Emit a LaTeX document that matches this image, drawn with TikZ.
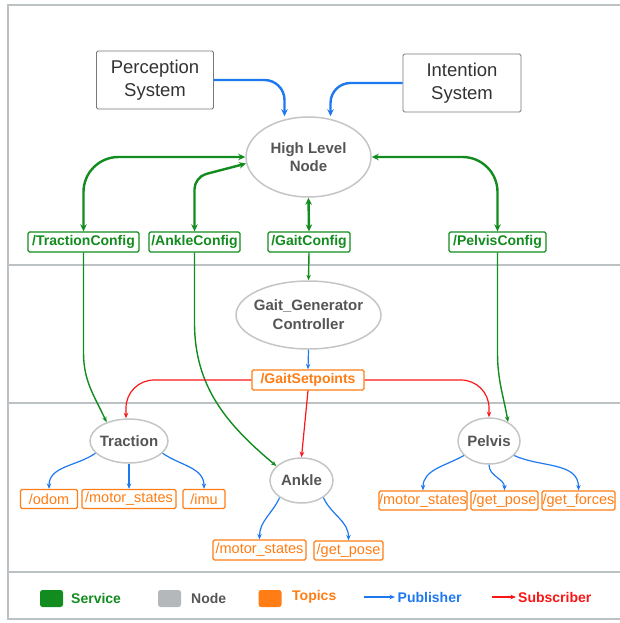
\documentclass[tikz,border=0pt]{standalone}
\usepackage{fontspec}
\setmainfont{Liberation Sans}
\usetikzlibrary{arrows.meta,shapes.geometric}

\definecolor{svcgreen}{RGB}{18,140,30}
\definecolor{topicorange}{RGB}{255,125,20}
\definecolor{pubblue}{RGB}{30,120,240}
\definecolor{subred}{RGB}{250,22,22}
\definecolor{nodeline}{RGB}{196,198,198}
\definecolor{nodetext}{RGB}{85,85,85}
\definecolor{legendgray}{RGB}{180,184,186}
\definecolor{framegray}{RGB}{188,193,195}
\definecolor{sysgray}{RGB}{120,120,120}
\definecolor{systext}{RGB}{51,51,51}

\tikzset{
  sysbox/.style={draw=sysgray, line width=0.9pt, rounded corners=1.5pt, fill=white,
    text=systext, align=center, font=\fontsize{18.5}{22.5}\selectfont, inner sep=0pt},
  rosnode/.style={ellipse, draw=nodeline, line width=1.5pt, fill=white, text=nodetext,
    align=center, font=\bfseries\fontsize{15}{17.5}\selectfont, inner xsep=-6pt, inner ysep=0pt},
  svclabel/.style={draw=svcgreen, line width=1.3pt, rounded corners=1.5pt, fill=white,
    text=svcgreen, font=\bfseries\fontsize{14}{16}\selectfont, minimum height=20pt, inner sep=0pt},
  topiclabel/.style={draw=topicorange, line width=1.3pt, rounded corners=1.5pt, fill=white,
    text=topicorange, font=\fontsize{14.5}{16}\selectfont, minimum height=19pt, inner sep=0pt},
  setpointlabel/.style={topiclabel, font=\bfseries\fontsize{14}{16}\selectfont, minimum height=20pt},
  legsq/.style={rounded corners=2.5pt, minimum width=23pt, minimum height=17pt, inner sep=0pt},
  legtext/.style={anchor=west, inner sep=0pt, font=\bfseries\fontsize{14}{16}\selectfont},
  tipbig/.tip={Stealth[length=7pt,width=6.5pt]},
  tipsmall/.tip={Stealth[length=5.5pt,width=4.5pt]},
  svcboth/.style={draw=svcgreen, line width=2.4pt, tipbig-tipbig},
  svc/.style={draw=svcgreen, line width=1.4pt, -tipsmall},
  pubthick/.style={draw=pubblue, line width=2.4pt, -tipbig},
  pub/.style={draw=pubblue, line width=1.2pt, -tipsmall},
  sub/.style={draw=subred, line width=1.2pt, -tipsmall},
  framerule/.style={draw=framegray, line width=2pt}
}

\begin{document}
\begin{tikzpicture}[x=1pt, y=-1pt]
\useasboundingbox (0,0) rectangle (619,623);

% outer frame and section rules
\draw[framerule] (640,5) -- (7.5,5) -- (7.5,619) -- (640,619);
\draw[framerule] (7.5,265) -- (640,265);
\draw[framerule] (7.5,403) -- (640,403);
\draw[framerule] (7.5,572) -- (640,572);

% external systems
\node[sysbox, minimum width=117pt, minimum height=58pt] (per) at (155,80) {Perception\\System};
\node[sysbox, minimum width=118pt, minimum height=58pt] (int) at (462,83) {Intention\\System};

% ROS nodes
\node[rosnode, minimum width=125pt, minimum height=80pt] (hln) at (308.5,157) {High Level\\Node};
\node[rosnode, minimum width=145pt, minimum height=68pt, font=\bfseries\fontsize{15}{19}\selectfont] (gg) at (308.5,315) {Gait\_Generator\\Controller};
\node[rosnode, minimum width=78pt, minimum height=44pt] (trac) at (129,441) {Traction};
\node[rosnode, minimum width=63pt, minimum height=45pt] (ank) at (301.5,480.5) {Ankle};
\node[rosnode, minimum width=62pt, minimum height=46pt] (pel) at (489,441) {Pelvis};

% services
\node[svclabel, minimum width=111pt] (tc) at (83.5,242) {/TractionConfig};
\node[svclabel, minimum width=91pt] (ac) at (194.5,242) {/AnkleConfig};
\node[svclabel, minimum width=82pt] (gc) at (309,242) {/GaitConfig};
\node[svclabel, minimum width=97pt] (pc) at (497.5,242) {/PelvisConfig};

% topics
\node[setpointlabel, minimum width=112pt] (gs) at (308,380) {/GaitSetpoints};
\node[topiclabel, minimum width=57pt] (odom) at (49,499) {/odom};
\node[topiclabel, minimum width=94pt] (tms) at (129,499) {/motor\_states};
\node[topiclabel, minimum width=42pt] (imu) at (204,499) {/imu};
\node[topiclabel, minimum width=93pt, minimum height=20pt] (ams) at (259.5,550) {/motor\_states};
\node[topiclabel, minimum width=69pt] (agp) at (348.5,550.5) {/get\_pose};
\node[topiclabel, minimum width=88pt] (pms) at (423,500.5) {/motor\_states};
\node[topiclabel, minimum width=67pt] (pgp) at (504.5,500.5) {/get\_pose};
\node[topiclabel, minimum width=73pt] (pgf) at (578.5,500.5) {/get\_forces};

% publishers into the high level node
\draw[pubthick, rounded corners=20pt] (per.east) -| ([xshift=-24pt]hln.north);
\draw[pubthick, rounded corners=20pt] (int.west) -| ([xshift=22pt]hln.north);

% service calls between the high level node and its configs
\draw[svcboth, rounded corners=35pt] (tc.north) |- (hln.west);
\draw[svcboth, rounded corners=12pt] (ac.north) -- (194.5,177) -- (hln.186);
\draw[svcboth] (hln.south) -- (gc.north);
\draw[svcboth, rounded corners=35pt] (pc.north) |- (hln.east);

% configs down to the controllers
\draw[svc] (gc.south) -- (gg.north);
\draw[svc] (tc.south) -- ++(0,100) to[out=-90,in=115] (trac.140);
\draw[svc] (ac.south) -- ++(0,70) to[out=-90,in=140] (ank.150);
\draw[svc] (pc.south) -- ++(0,100) to[out=-90,in=100] (pel.45);

% setpoints
\draw[pub] (gg.south) -- (gs.north);
\draw[sub, rounded corners=28pt] (gs.west) -| ([xshift=-3pt]trac.north);
\draw[sub, rounded corners=28pt] (gs.east) -| (pel.north);
\draw[sub] (gs.south) -- (ank.north);

% published topics
\draw[pub] (trac.200) to[out=-145,in=90] (odom.north);
\draw[pub] (trac.south) -- (tms.north);
\draw[pub] (trac.-20) to[out=-35,in=90] (imu.north);
\draw[pub] (ank.218) to[out=-115,in=90] (ams.north);
\draw[pub] (ank.-38) to[out=-65,in=90] (agp.north);
\draw[pub] (pel.210) to[out=-150,in=90] (pms.north);
\draw[pub] (pel.south) to[out=-90,in=90] (pgp.north);
\draw[pub] (pel.-30) to[out=-25,in=90] (pgf.north);

% legend
\node[legsq, fill=svcgreen] (lsvc) at (51.5,598.5) {};
\node[legtext, text=svcgreen] (lsvct) at (71,598) {Service};
\node[legsq, fill=legendgray] (lnode) at (169.5,598.5) {};
\node[legtext, text=nodetext] (lnodet) at (191,598) {Node};
\node[legsq, fill=topicorange] (ltop) at (270,598.5) {};
\node[legtext, text=topicorange] (ltopt) at (292,597) {Topics};
\coordinate (lpubA) at (364,597);
\coordinate (lpubB) at (395,597);
\draw[pub] (lpubA) -- (lpubB);
\node[legtext, text=pubblue] (lpubt) at (397.5,597) {Publisher};
\coordinate (lsubA) at (491.5,597);
\coordinate (lsubB) at (516,597);
\draw[sub] (lsubA) -- (lsubB);
\node[legtext, text=subred] (lsubt) at (518,597) {Subscriber};
\end{tikzpicture}
\end{document}
